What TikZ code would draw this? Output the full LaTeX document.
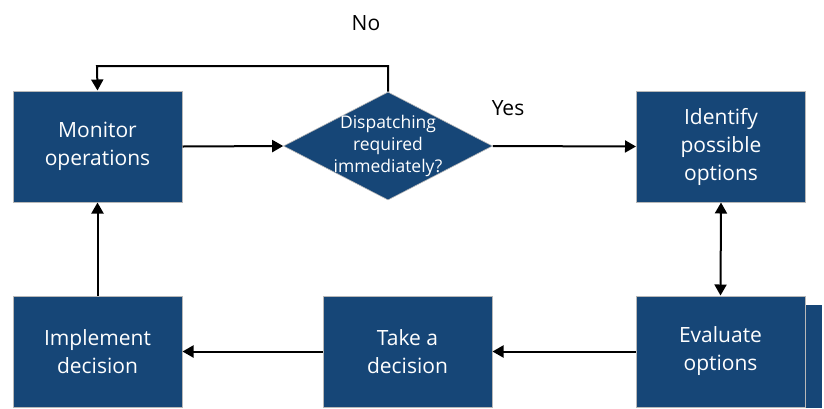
\documentclass[tikz,border=0pt]{standalone}
\usepackage{fontspec}
\setmainfont{Open Sans}
\usetikzlibrary{arrows.meta,shapes.geometric}
\definecolor{boxblue}{HTML}{164677}
\definecolor{edgegray}{HTML}{B8B8B8}
\newcommand{\zb}[1]{\makebox[0pt]{#1}}
\tikzset{
  blk/.style={draw=edgegray,line width=1pt,fill=boxblue,text=white,minimum width=169pt,minimum height=111pt,inner sep=0pt,align=center,font=\fontsize{21}{28}\selectfont},
  dia/.style={diamond,draw=edgegray,line width=0.6pt,fill=boxblue,text=white,aspect=1.93,minimum width=209pt,minimum height=108pt,inner sep=0pt,align=center,font=\fontsize{17.5}{22}\selectfont},
  conn/.style={line width=2pt,-{Triangle[length=11pt,width=12pt]}},
  lbl/.style={font=\fontsize{21}{24}\selectfont,inner sep=0pt}
}
\begin{document}
\begin{tikzpicture}[x=1pt,y=-1pt]
\useasboundingbox (0,0) rectangle (824,408);
\fill[boxblue] (806,305) rectangle (822,408);
\node[blk] (mon) at (97.5,146.5) {Monitor\\operations};
\node[dia] (dis) at (388,146) {\zb{Dispatching}\\\zb{required}\\\zb{immediately?}};
\node[blk] (ide) at (721,146.5) {Identify\\possible\\options};
\node[blk] (eva) at (720.5,351.5) {Evaluate\\options};
\node[blk] (tak) at (407.5,351.5) {Take a\\decision};
\node[blk] (imp) at (97.5,351.5) {Implement\\decision};
\coordinate (nr) at (388,66);
\coordinate (nl) at (97,66);
\draw[conn] (mon.east) -- (dis.west);
\draw[conn] (dis.east) -- (ide.west);
\draw[line width=2pt,{Triangle[length=11pt,width=12pt]}-{Triangle[length=11pt,width=12pt]}] (ide.south) -- (eva.north);
\draw[conn] (eva.west) -- (tak.east);
\draw[conn] (tak.west) -- (imp.east);
\draw[conn] (imp.north) -- (mon.south);
\draw[conn] (dis.north) -- (nr) -- (nl) -- (mon.north);
\node[lbl] (no) at (366,23) {No};
\node[lbl] (yes) at (508,108) {Yes};
\end{tikzpicture}
\end{document}
